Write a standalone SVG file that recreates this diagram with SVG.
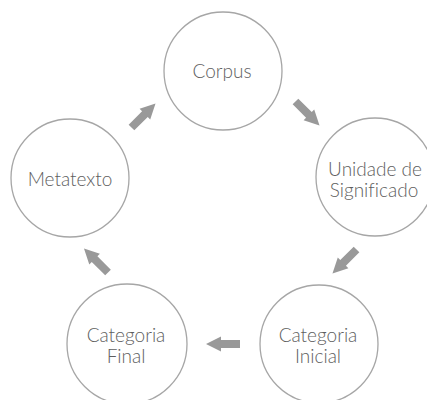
<svg xmlns="http://www.w3.org/2000/svg" width="427" height="400" viewBox="0 0 427 400">
<defs>
<style>
.node circle{fill:#ffffff;stroke:#a6a6a6;stroke-width:1.3}
.node text{font-family:Lato,"Open Sans","Liberation Sans",sans-serif;font-weight:300;font-size:19px;fill:#5e5e5e;text-anchor:middle;font-variant-ligatures:none}
.arrow{fill:#999999}
</style>
<path id="arr" d="M-17,-4 L2,-4 L2,-7.5 L17,0 L2,7.5 L2,4 L-17,4 Z"/>
</defs>
<rect width="427" height="400" fill="#ffffff"/>
<g id="connectors">
<use href="#arr" class="arrow" transform="translate(307.5,113.5) rotate(45)"/>
<use href="#arr" class="arrow" transform="translate(344.5,261.5) rotate(135)"/>
<use href="#arr" class="arrow" transform="translate(223,344) rotate(180)"/>
<use href="#arr" class="arrow" transform="translate(96,260.5) rotate(225)"/>
<use href="#arr" class="arrow" transform="translate(143.5,115.5) rotate(-45)"/>
</g>
<g id="corpus" class="node">
<circle cx="223" cy="71" r="59"/>
<text x="222" y="78">Corpus</text>
</g>
<g id="unidade" class="node">
<circle cx="375" cy="177" r="59"/>
<text x="375" y="176">Unidade de</text>
<text x="374" y="197">Significado</text>
</g>
<g id="categoria-inicial" class="node">
<circle cx="319" cy="344" r="59"/>
<text x="318" y="341.5">Categoria</text>
<text x="318" y="363">Inicial</text>
</g>
<g id="categoria-final" class="node">
<circle cx="127" cy="344" r="60"/>
<text x="126" y="341.5">Categoria</text>
<text x="126" y="363">Final</text>
</g>
<g id="metatexto" class="node">
<circle cx="70" cy="178" r="59"/>
<text x="70" y="186">Metatexto</text>
</g>
</svg>
